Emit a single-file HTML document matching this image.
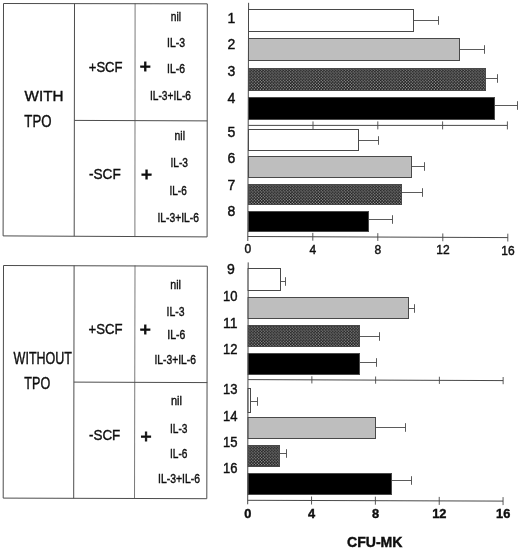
<!DOCTYPE html>
<html><head><meta charset="utf-8"><title>CFU-MK</title>
<style>
html,body{margin:0;padding:0;background:#fff;}
body{width:520px;height:549px;overflow:hidden;}
svg{display:block;}
text{font-family:"Liberation Sans",sans-serif;fill:#111;stroke:#111;stroke-width:0.42px;}
.b{font-weight:bold;}
</style></head><body>
<svg width="520" height="549" viewBox="0 0 520 549">
<defs>
<pattern id="dk" width="2.9" height="2.9" viewBox="0 0 3 3" patternUnits="userSpaceOnUse">
<rect width="3" height="3" fill="#141414"/>
<rect x="0.2" y="0.2" width="1.1" height="1.1" fill="#dcdcdc"/>
<rect x="1.7" y="1.7" width="1.1" height="1.1" fill="#dcdcdc"/>
</pattern>
<filter id="soft" x="0" y="0" width="100%" height="100%" filterUnits="userSpaceOnUse"><feGaussianBlur stdDeviation="0.38"/></filter>
</defs>
<rect width="520" height="549" fill="#fff"/>
<g filter="url(#soft)">

<path d="M3.5 3.5 L207.3 3.85 L207.1 236.9 L3.1 235.9 Z" fill="none" stroke="#4c4c4c" stroke-width="1"/>
<line x1="74.5" y1="3.5" x2="74.2" y2="236.20000000000002" stroke="#4c4c4c" stroke-width="1"/>
<line x1="135.1" y1="3.5" x2="134.9" y2="236.4" stroke="#4c4c4c" stroke-width="0.75"/>
<line x1="74.35" y1="120.4" x2="207.3" y2="120.9" stroke="#4c4c4c" stroke-width="1"/>
<text x="24.6" y="101.0" font-size="15" textLength="38.8" lengthAdjust="spacingAndGlyphs">WITH</text>
<text x="24.3" y="127.3" font-size="15.8" textLength="27.2" lengthAdjust="spacingAndGlyphs">TPO</text>
<text x="88.75" y="71.75" font-size="15.5" textLength="33.75" lengthAdjust="spacingAndGlyphs">+SCF</text>
<text x="89" y="178.8" font-size="15.5" textLength="31.75" lengthAdjust="spacingAndGlyphs">-SCF</text>
<text x="145.2" y="72.85" font-size="19" text-anchor="middle" style="stroke-width:0.9px">+</text>
<text x="146.5" y="181.04999999999998" font-size="19" text-anchor="middle" style="stroke-width:0.9px">+</text>
<text x="170.75" y="20.75" font-size="12.8" textLength="10.25" lengthAdjust="spacingAndGlyphs">nil</text>
<text x="167" y="47" font-size="12.8" textLength="18" lengthAdjust="spacingAndGlyphs">IL-3</text>
<text x="167" y="72.5" font-size="12.8" textLength="18" lengthAdjust="spacingAndGlyphs">IL-6</text>
<text x="150" y="100" font-size="12.8" textLength="41" lengthAdjust="spacingAndGlyphs">IL-3+IL-6</text>
<text x="174.6" y="139.6" font-size="12.8" textLength="10.4" lengthAdjust="spacingAndGlyphs">nil</text>
<text x="170.5" y="167" font-size="12.8" textLength="17.5" lengthAdjust="spacingAndGlyphs">IL-3</text>
<text x="169.5" y="195" font-size="12.8" textLength="17.25" lengthAdjust="spacingAndGlyphs">IL-6</text>
<text x="157.5" y="221.5" font-size="12.8" textLength="41.5" lengthAdjust="spacingAndGlyphs">IL-3+IL-6</text>
<path d="M3.5 265.5 L207.3 266.2 L206.8 498.7 L3.2 498.1 Z" fill="none" stroke="#4c4c4c" stroke-width="1"/>
<line x1="74.1" y1="265.5" x2="73.7" y2="498.40000000000003" stroke="#4c4c4c" stroke-width="1"/>
<line x1="135" y1="265.5" x2="134.5" y2="498.6" stroke="#4c4c4c" stroke-width="0.75"/>
<line x1="73.9" y1="382.1" x2="207.3" y2="382.6" stroke="#4c4c4c" stroke-width="1"/>
<text x="13.6" y="364.0" font-size="15.6" textLength="58.4" lengthAdjust="spacingAndGlyphs">WITHOUT</text>
<text x="24.3" y="389.2" font-size="15.8" textLength="25.9" lengthAdjust="spacingAndGlyphs">TPO</text>
<text x="88.5" y="334.3" font-size="15.5" textLength="34.0" lengthAdjust="spacingAndGlyphs">+SCF</text>
<text x="89" y="440" font-size="15.5" textLength="31.3" lengthAdjust="spacingAndGlyphs">-SCF</text>
<text x="145.2" y="335.65000000000003" font-size="19" text-anchor="middle" style="stroke-width:0.9px">+</text>
<text x="146" y="443.35" font-size="19" text-anchor="middle" style="stroke-width:0.9px">+</text>
<text x="170.3" y="288.9" font-size="12.8" textLength="10.7" lengthAdjust="spacingAndGlyphs">nil</text>
<text x="166.5" y="316.4" font-size="12.8" textLength="18.0" lengthAdjust="spacingAndGlyphs">IL-3</text>
<text x="167.3" y="339.1" font-size="12.8" textLength="18.0" lengthAdjust="spacingAndGlyphs">IL-6</text>
<text x="154.5" y="364.3" font-size="12.8" textLength="41.5" lengthAdjust="spacingAndGlyphs">IL-3+IL-6</text>
<text x="171" y="404.5" font-size="12.8" textLength="11" lengthAdjust="spacingAndGlyphs">nil</text>
<text x="170" y="432.5" font-size="12.8" textLength="17.5" lengthAdjust="spacingAndGlyphs">IL-3</text>
<text x="170" y="458" font-size="12.8" textLength="17.5" lengthAdjust="spacingAndGlyphs">IL-6</text>
<text x="158" y="482.5" font-size="12.8" textLength="42" lengthAdjust="spacingAndGlyphs">IL-3+IL-6</text>
<line x1="248.6" y1="2.8" x2="247.8" y2="241" stroke="#484848" stroke-width="1"/>
<line x1="248.2" y1="125.4" x2="507.4" y2="125.4" stroke="#484848" stroke-width="1"/>
<line x1="313.0" y1="121.4" x2="313.0" y2="129.4" stroke="#484848" stroke-width="0.9"/>
<line x1="377.8" y1="121.4" x2="377.8" y2="129.4" stroke="#484848" stroke-width="0.9"/>
<line x1="442.6" y1="121.4" x2="442.6" y2="129.4" stroke="#484848" stroke-width="0.9"/>
<line x1="507.4" y1="121.4" x2="507.4" y2="129.4" stroke="#484848" stroke-width="0.9"/>
<line x1="247.8" y1="236.5" x2="507.8" y2="237.6" stroke="#484848" stroke-width="1"/>
<line x1="312.8" y1="232.875" x2="312.8" y2="240.675" stroke="#484848" stroke-width="0.9"/>
<line x1="377.8" y1="233.15" x2="377.8" y2="240.95000000000002" stroke="#484848" stroke-width="0.9"/>
<line x1="442.8" y1="233.42499999999998" x2="442.8" y2="241.225" stroke="#484848" stroke-width="0.9"/>
<line x1="507.8" y1="233.7" x2="507.8" y2="241.5" stroke="#484848" stroke-width="0.9"/>
<rect x="248.5" y="9.5" width="165.0" height="22.0" fill="#fff" stroke="#484848" stroke-width="1"/>
<line x1="413.5" y1="20.5" x2="438.5" y2="20.5" stroke="#484848" stroke-width="0.9"/>
<line x1="438.5" y1="16.2" x2="438.5" y2="24.8" stroke="#484848" stroke-width="0.9"/>
<rect x="248.5" y="38.5" width="211.0" height="22.0" fill="#bebebe" stroke="#484848" stroke-width="1"/>
<line x1="459.5" y1="49.5" x2="484.5" y2="49.5" stroke="#484848" stroke-width="0.9"/>
<line x1="484.5" y1="45.2" x2="484.5" y2="53.8" stroke="#484848" stroke-width="0.9"/>
<rect x="248.5" y="68.5" width="237.0" height="22.0" fill="url(#dk)" stroke="#484848" stroke-width="1"/>
<line x1="485.5" y1="78.5" x2="497.5" y2="78.5" stroke="#484848" stroke-width="0.9"/>
<line x1="497.5" y1="74.2" x2="497.5" y2="82.8" stroke="#484848" stroke-width="0.9"/>
<rect x="248.5" y="97.5" width="246.0" height="22.0" fill="#050505" stroke="#484848" stroke-width="1"/>
<line x1="494.5" y1="105.5" x2="517.5" y2="105.5" stroke="#484848" stroke-width="0.9"/>
<line x1="517.5" y1="101.2" x2="517.5" y2="109.8" stroke="#484848" stroke-width="0.9"/>
<rect x="248.5" y="129.5" width="110.0" height="21.0" fill="#fff" stroke="#484848" stroke-width="1"/>
<line x1="358.5" y1="140.5" x2="378.5" y2="140.5" stroke="#484848" stroke-width="0.9"/>
<line x1="378.5" y1="136.2" x2="378.5" y2="144.8" stroke="#484848" stroke-width="0.9"/>
<rect x="248.5" y="156.5" width="163.0" height="21.0" fill="#bebebe" stroke="#484848" stroke-width="1"/>
<line x1="411.5" y1="166.5" x2="424.5" y2="166.5" stroke="#484848" stroke-width="0.9"/>
<line x1="424.5" y1="162.2" x2="424.5" y2="170.8" stroke="#484848" stroke-width="0.9"/>
<rect x="248.5" y="184.5" width="153.0" height="20.0" fill="url(#dk)" stroke="#484848" stroke-width="1"/>
<line x1="401.5" y1="192.5" x2="422.5" y2="192.5" stroke="#484848" stroke-width="0.9"/>
<line x1="422.5" y1="188.2" x2="422.5" y2="196.8" stroke="#484848" stroke-width="0.9"/>
<rect x="248.5" y="211.5" width="120.0" height="20.0" fill="#050505" stroke="#484848" stroke-width="1"/>
<line x1="368.5" y1="219.5" x2="392.5" y2="219.5" stroke="#484848" stroke-width="0.9"/>
<line x1="392.5" y1="215.2" x2="392.5" y2="223.8" stroke="#484848" stroke-width="0.9"/>
<text x="231.5" y="22.8" font-size="14" text-anchor="middle">1</text>
<text x="231.5" y="49.4" font-size="14" text-anchor="middle">2</text>
<text x="231.5" y="76.2" font-size="14" text-anchor="middle">3</text>
<text x="231.5" y="103.1" font-size="14" text-anchor="middle">4</text>
<text x="231.5" y="137.1" font-size="14" text-anchor="middle">5</text>
<text x="231.5" y="163.1" font-size="14" text-anchor="middle">6</text>
<text x="231.5" y="189.6" font-size="14" text-anchor="middle">7</text>
<text x="231.5" y="216.1" font-size="14" text-anchor="middle">8</text>
<text x="247.9" y="253.3" font-size="12" text-anchor="middle">0</text>
<text x="312.9" y="253.6" font-size="12" text-anchor="middle">4</text>
<text x="377.9" y="253.9" font-size="12" text-anchor="middle">8</text>
<text x="442.9" y="254.2" font-size="12" text-anchor="middle">12</text>
<text x="507.9" y="254.5" font-size="12" text-anchor="middle">16</text>
<line x1="248.2" y1="262.4" x2="247.7" y2="504.3" stroke="#484848" stroke-width="1"/>
<line x1="248.1" y1="379.6" x2="503.14" y2="380.6" stroke="#484848" stroke-width="1"/>
<line x1="311.86" y1="376.25" x2="311.86" y2="383.45000000000005" stroke="#484848" stroke-width="0.9"/>
<line x1="375.62" y1="376.5" x2="375.62" y2="383.70000000000005" stroke="#484848" stroke-width="0.9"/>
<line x1="439.38" y1="376.75" x2="439.38" y2="383.95000000000005" stroke="#484848" stroke-width="0.9"/>
<line x1="503.14" y1="377.0" x2="503.14" y2="384.20000000000005" stroke="#484848" stroke-width="0.9"/>
<line x1="247.7" y1="500.3" x2="503.06" y2="501.1" stroke="#484848" stroke-width="1"/>
<line x1="311.54" y1="496.5" x2="311.54" y2="504.5" stroke="#484848" stroke-width="0.9"/>
<line x1="375.38" y1="496.7" x2="375.38" y2="504.7" stroke="#484848" stroke-width="0.9"/>
<line x1="439.22" y1="496.90000000000003" x2="439.22" y2="504.90000000000003" stroke="#484848" stroke-width="0.9"/>
<line x1="503.06" y1="497.1" x2="503.06" y2="505.1" stroke="#484848" stroke-width="0.9"/>
<rect x="248.1" y="268.5" width="32.4" height="22.0" fill="#fff" stroke="#484848" stroke-width="1"/>
<line x1="280.5" y1="281.5" x2="285.5" y2="281.5" stroke="#484848" stroke-width="0.9"/>
<line x1="285.5" y1="277.2" x2="285.5" y2="285.8" stroke="#484848" stroke-width="0.9"/>
<rect x="248.1" y="297.5" width="160.4" height="21.0" fill="#bebebe" stroke="#484848" stroke-width="1"/>
<line x1="408.5" y1="308.5" x2="414.5" y2="308.5" stroke="#484848" stroke-width="0.9"/>
<line x1="414.5" y1="304.2" x2="414.5" y2="312.8" stroke="#484848" stroke-width="0.9"/>
<rect x="248.1" y="325.5" width="111.4" height="21.0" fill="url(#dk)" stroke="#484848" stroke-width="1"/>
<line x1="359.5" y1="336.5" x2="379.5" y2="336.5" stroke="#484848" stroke-width="0.9"/>
<line x1="379.5" y1="332.2" x2="379.5" y2="340.8" stroke="#484848" stroke-width="0.9"/>
<rect x="248.1" y="353.5" width="111.4" height="21.0" fill="#050505" stroke="#484848" stroke-width="1"/>
<line x1="359.5" y1="362.5" x2="376.5" y2="362.5" stroke="#484848" stroke-width="0.9"/>
<line x1="376.5" y1="358.2" x2="376.5" y2="366.8" stroke="#484848" stroke-width="0.9"/>
<rect x="248.1" y="388.5" width="2.4" height="24.0" fill="#fff" stroke="#484848" stroke-width="1"/>
<line x1="250.5" y1="401.5" x2="257.5" y2="401.5" stroke="#484848" stroke-width="0.9"/>
<line x1="257.5" y1="397.2" x2="257.5" y2="405.8" stroke="#484848" stroke-width="0.9"/>
<rect x="248.1" y="417.5" width="127.4" height="21.0" fill="#bebebe" stroke="#484848" stroke-width="1"/>
<line x1="375.5" y1="427.5" x2="405.5" y2="427.5" stroke="#484848" stroke-width="0.9"/>
<line x1="405.5" y1="423.2" x2="405.5" y2="431.8" stroke="#484848" stroke-width="0.9"/>
<rect x="248.1" y="445.5" width="31.4" height="21.0" fill="url(#dk)" stroke="#484848" stroke-width="1"/>
<line x1="279.5" y1="453.5" x2="286.5" y2="453.5" stroke="#484848" stroke-width="0.9"/>
<line x1="286.5" y1="449.2" x2="286.5" y2="457.8" stroke="#484848" stroke-width="0.9"/>
<rect x="248.1" y="473.5" width="143.4" height="21.0" fill="#050505" stroke="#484848" stroke-width="1"/>
<line x1="391.5" y1="480.5" x2="411.5" y2="480.5" stroke="#484848" stroke-width="0.9"/>
<line x1="411.5" y1="476.2" x2="411.5" y2="484.8" stroke="#484848" stroke-width="0.9"/>
<text x="231" y="274" font-size="14" text-anchor="middle">9</text>
<text x="223" y="301" font-size="14" textLength="14.5" lengthAdjust="spacingAndGlyphs">10</text>
<text x="223" y="327.5" font-size="14" textLength="14.5" lengthAdjust="spacingAndGlyphs">11</text>
<text x="223" y="354" font-size="14" textLength="14.5" lengthAdjust="spacingAndGlyphs">12</text>
<text x="223" y="393.75" font-size="14" textLength="14.5" lengthAdjust="spacingAndGlyphs">13</text>
<text x="223" y="420.5" font-size="14" textLength="14.5" lengthAdjust="spacingAndGlyphs">14</text>
<text x="223" y="447" font-size="14" textLength="14.5" lengthAdjust="spacingAndGlyphs">15</text>
<text x="223" y="473" font-size="14" textLength="14.5" lengthAdjust="spacingAndGlyphs">16</text>
<text x="247.8" y="517.8" font-size="12.8" text-anchor="middle" class="b">0</text>
<text x="311.64" y="517.9" font-size="12.8" text-anchor="middle" class="b">4</text>
<text x="375.48" y="518.0" font-size="12.8" text-anchor="middle" class="b">8</text>
<text x="439.32" y="518.0999999999999" font-size="12.8" text-anchor="middle" class="b">12</text>
<text x="503.16" y="518.1999999999999" font-size="12.8" text-anchor="middle" class="b">16</text>
<text x="347" y="546.6" font-size="14" textLength="55.5" lengthAdjust="spacingAndGlyphs" class="b">CFU-MK</text>
</g></svg></body></html>
